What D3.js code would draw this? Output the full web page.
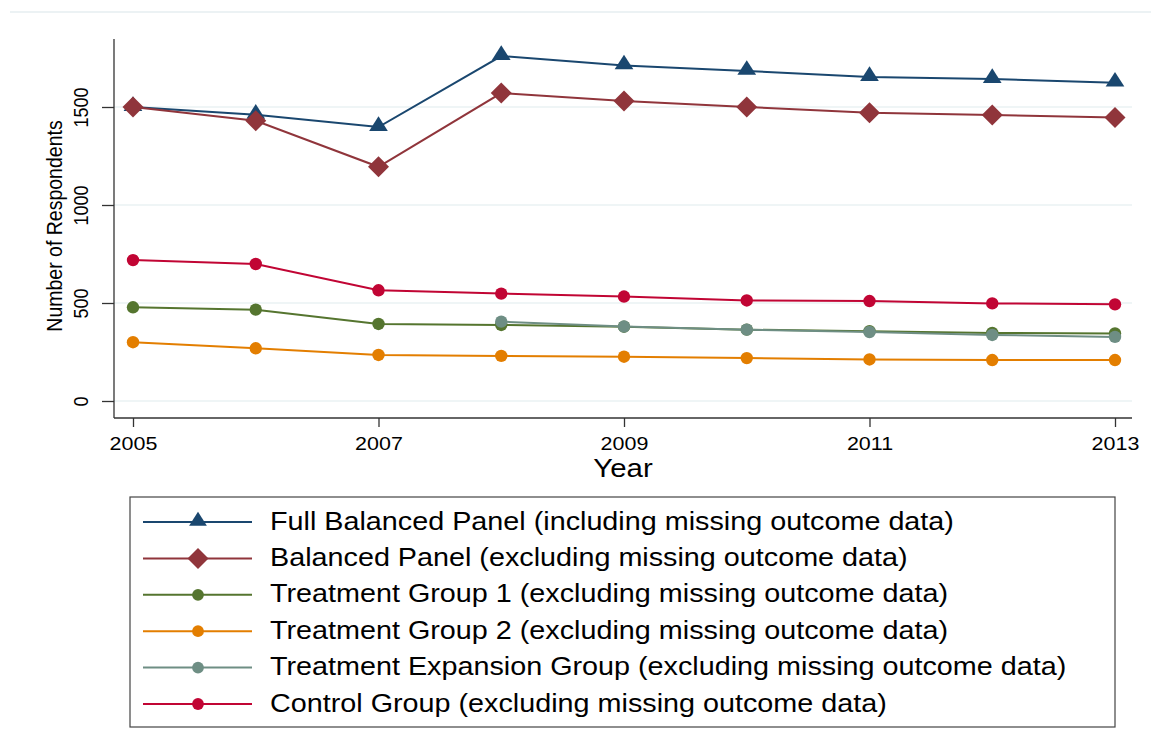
<!DOCTYPE html>
<html>
<head>
<meta charset="utf-8">
<script src="https://cdn.jsdelivr.net/npm/d3@7"></script>
<style>
  body { margin: 0; background: #fff; }
  text { font-family: "Liberation Sans", Arial, sans-serif; fill: #000; }
</style>
</head>
<body>
<script>
// years and series
const years = [2005, 2006, 2007, 2008, 2009, 2010, 2011, 2012, 2013];
const yTicks = [0, 500, 1000, 1500];
const xTicks = [2005, 2007, 2009, 2011, 2013];

const fullPanel   = [1500, 1460, 1398, 1760, 1712, 1684, 1653, 1643, 1624];
const balanced    = [1500, 1430, 1195, 1571, 1531, 1500, 1471, 1459, 1447];
const treat1      = [478, 466, 393, 388, 379, 364, 356, 347, 345];
const treat2      = [300, 269, 235, 230, 226, 219, 212, 209, 209];
const treatExp    = [null, null, null, 405, 380, 364, 352, 337, 327];
const control     = [719, 699, 565, 548, 533, 513, 510, 498, 493];

const seriesNames = [
  "Full Balanced Panel (including missing outcome data)",
  "Balanced Panel (excluding missing outcome data)",
  "Treatment Group 1 (excluding missing outcome data)",
  "Treatment Group 2 (excluding missing outcome data)",
  "Treatment Expansion Group (excluding missing outcome data)",
  "Control Group (excluding missing outcome data)"
];
const seriesValues = [fullPanel, balanced, treat1, treat2, treatExp, control];
const seriesColors = ["#1a476f", "#90353b", "#55752f", "#e37e00", "#6e8e84", "#c10534"];
const seriesShapes = ["triangle", "diamond", "circle", "circle", "circle", "circle"];

const drawOrder = [0, 1, 5, 2, 3, 4];

// the picture is a bit wider than tall, text gets stretched sideways
const stretch = 1.13;

const width = 1151, height = 756;
const svg = d3.select("body").append("svg")
  .attr("width", width)
  .attr("height", height);

// thin rule at the very top
svg.append("line")
  .attr("x1", 10).attr("x2", width)
  .attr("y1", 12).attr("y2", 12)
  .attr("stroke", "#e6eef0").attr("stroke-width", 1.5);

const plotLeft = 114, plotRight = 1132, plotTop = 39, plotBottom = 418;

const x = d3.scaleLinear().domain([2005, 2013]).range([133, 1115]);
const y = d3.scaleLinear().domain([0, 1500]).range([401, 107]);

// gridlines
svg.append("g")
  .selectAll("line")
  .data(yTicks)
  .enter()
  .append("line")
  .attr("x1", plotLeft).attr("x2", plotRight)
  .attr("y1", d => y(d)).attr("y2", d => y(d))
  .attr("stroke", "#eaf2f3").attr("stroke-width", 1.5);

// y axis
const yAxis = svg.append("g")
  .attr("transform", `translate(${plotLeft},0)`)
  .call(d3.axisLeft(y).tickValues(yTicks).tickSize(12).tickPadding(0).tickFormat(d3.format("d")));
yAxis.select(".domain").attr("d", `M0,${plotTop}V${plotBottom}`).attr("stroke", "#333").attr("stroke-width", 1.3);
yAxis.selectAll(".tick line").attr("stroke", "#333").attr("stroke-width", 1.3);
yAxis.selectAll(".tick text")
  .attr("x", 0).attr("dy", null)
  .attr("transform", `translate(-31,0) scale(${stretch},1) rotate(-90)`)
  .attr("text-anchor", "middle")
  .attr("dominant-baseline", "middle")
  .style("font-size", "18px")
  .style("font-family", "'Liberation Sans', Arial, sans-serif");

svg.append("text")
  .attr("transform", `translate(56,226) scale(${stretch},1) rotate(-90)`)
  .attr("text-anchor", "middle")
  .attr("dominant-baseline", "middle")
  .style("font-size", "19.5px")
  .text("Number of Respondents");

// x axis
const xAxis = svg.append("g")
  .attr("transform", `translate(0,${plotBottom})`)
  .call(d3.axisBottom(x).tickValues(xTicks).tickSize(9).tickFormat(d3.format("d")));
xAxis.select(".domain").attr("d", `M${plotLeft},0H${plotRight}`).attr("stroke", "#333").attr("stroke-width", 1.3);
xAxis.selectAll(".tick line").attr("stroke", "#333").attr("stroke-width", 1.3);
xAxis.selectAll(".tick text")
  .attr("y", 0).attr("dy", null)
  .attr("transform", `translate(0,27) scale(${stretch},1)`)
  .attr("dominant-baseline", "middle")
  .style("font-size", "19px")
  .style("font-family", "'Liberation Sans', Arial, sans-serif");

svg.append("text")
  .attr("transform", `translate(623,477) scale(${stretch},1)`)
  .attr("text-anchor", "middle")
  .style("font-size", "26px")
  .text("Year");

// marker helper
function marker(sel, shape, color, scale) {
  const s = scale || 1;
  if (shape === "triangle") {
    sel.append("path")
      .attr("d", d3.symbol().type(d3.symbolTriangle).size(125 * s * s))
      .attr("transform", `translate(0,-1) scale(1.1,1)`)
      .attr("fill", color);
  } else if (shape === "diamond") {
    sel.append("path")
      .attr("d", `M0,${-10.5 * s}L${10.5 * s},0L0,${10.5 * s}L${-10.5 * s},0Z`)
      .attr("fill", color);
  } else {
    sel.append("circle")
      .attr("r", 6.2 * s)
      .attr("fill", color);
  }
}

const line = d3.line()
  .defined(d => d.v != null)
  .x(d => x(d.year))
  .y(d => y(d.v));

drawOrder.forEach(k => {
  const pts = years.map((yr, i) => ({ year: yr, v: seriesValues[k][i] }));
  const g = svg.append("g");
  g.append("path")
    .datum(pts)
    .attr("d", line)
    .attr("fill", "none")
    .attr("stroke", seriesColors[k])
    .attr("stroke-width", 2);
  g.selectAll("g.pt")
    .data(pts.filter(d => d.v != null))
    .enter()
    .append("g")
    .attr("class", "pt")
    .attr("transform", d => `translate(${x(d.year)},${y(d.v)})`)
    .each(function() { marker(d3.select(this), seriesShapes[k], seriesColors[k]); });
});

// legend
const legend = svg.append("g");
legend.append("rect")
  .attr("x", 130).attr("y", 497)
  .attr("width", 985).attr("height", 230)
  .attr("fill", "#fff")
  .attr("stroke", "#444").attr("stroke-width", 1.2);

const rowY = d3.scaleLinear().domain([0, 5]).range([522, 704]);

seriesNames.forEach((name, k) => {
  const ly = rowY(k);
  const row = legend.append("g");
  row.append("line")
    .attr("x1", 143).attr("x2", 252)
    .attr("y1", ly).attr("y2", ly)
    .attr("stroke", seriesColors[k]).attr("stroke-width", 2);
  const m = row.append("g").attr("transform", `translate(198,${ly})`);
  marker(m, seriesShapes[k], seriesColors[k], k === 1 ? 1.0 : 0.95);
  row.append("text")
    .attr("transform", `translate(270,${ly + 1}) scale(1.15,1)`)
    .attr("dominant-baseline", "middle")
    .style("font-size", "25px")
    .text(name);
});
</script>
</body>
</html>
